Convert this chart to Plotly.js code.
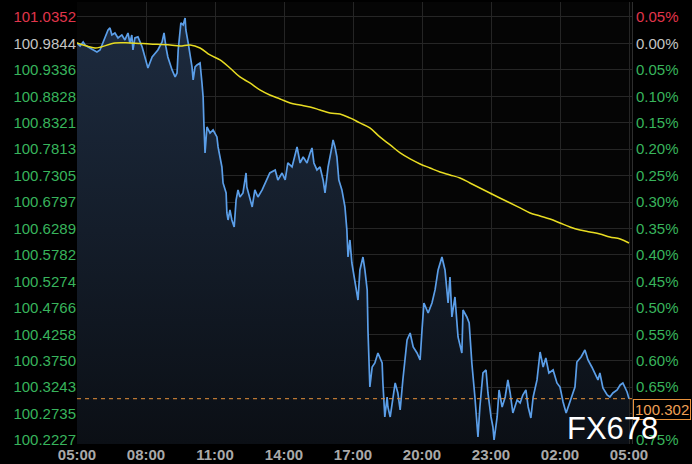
<!DOCTYPE html>
<html>
<head>
<meta charset="utf-8">
<script src="https://cdn.plot.ly/plotly-3.0.1.min.js"></script>
<style>
html,body{margin:0;padding:0;background:#000;}
#chart{width:692px;height:464px;}
</style>
</head>
<body>
<div id="chart"></div>
<script>
// minutes since 05:00
const priceTime = [0,8,16,21,29,34,42,52,60,65,73,81,86,91,99,107,117,125,133,138,143,146,151,159,170,177,183,185,196,204,211,222,227,232,237,248,256,261,264,271,277,282,284,290,295,300,303,308,313,321,326,329,331,334,339,347,355,365,368,378,381,389,391,394,399,404,410,415,420,425,433,441,443,451,457,464,472,483,496,503,517,524,535,543,550,561,574,582,590,600,608,613,618,626,634,642,647,655,665,668,673,678,683,691,699,704,707,712,717,725,733,738,746,751,757,759,764,770,777,785,796,798,803,809,811,817,822,830,837,843,850,861,869,877,887,895,900,905,916,926,934,942,952,960,968,973,978,986,994,1004,1007,1017,1023,1030,1038,1046,1051,1059,1067,1072,1080,1085,1088,1096,1101,1109,1117,1124,1130,1137,1148,1156,1163,1171,1177,1184,1190,1200,1208,1216,1223,1231,1242,1252,1260,1268,1276,1281,1291,1299,1304,1315,1325,1333,1343,1351,1359,1364,1372,1383,1390,1398,1409,1417,1424,1435,1440];
const priceValue = [100.9853,100.9796,100.9873,100.9815,100.9777,100.9757,100.9719,100.9681,100.9719,100.9815,100.9969,101.0103,101.0142,101.0007,101.0045,100.9949,101.0007,100.9911,101.0045,100.9853,101.0007,100.9719,100.9949,100.9969,100.9777,100.9584,100.9392,100.9373,100.9584,100.9661,100.9719,100.9873,101.0045,100.9777,100.9584,100.9335,100.9200,100.9277,100.9719,101.0238,101.0199,101.0334,101.0103,100.9853,100.9623,100.9392,100.9143,100.9392,100.9431,100.9469,100.9085,100.8816,100.8317,100.7740,100.8240,100.8124,100.8182,100.8048,100.7856,100.7471,100.7164,100.6972,100.6588,100.6453,100.6645,100.6453,100.6319,100.6837,100.7030,100.6895,100.6972,100.7356,100.7087,100.6837,100.6703,100.7030,100.6895,100.7030,100.7222,100.7356,100.7414,100.7222,100.7356,100.7222,100.7548,100.7471,100.7856,100.7548,100.7663,100.7548,100.7740,100.7836,100.7548,100.7414,100.7471,100.7222,100.6972,100.7471,100.7856,100.7990,100.7856,100.7663,100.7222,100.7030,100.6703,100.6261,100.5742,100.6069,100.5627,100.5301,100.4916,100.5493,100.5742,100.5493,100.5109,100.4340,100.3245,100.3629,100.3706,100.3898,100.3706,100.3322,100.2669,100.3053,100.2861,100.2669,100.2938,100.3322,100.3130,100.2803,100.3380,100.4148,100.4282,100.4014,100.3898,100.3764,100.4340,100.4859,100.4667,100.4859,100.5109,100.5493,100.5742,100.5493,100.4859,100.5358,100.4590,100.4974,100.4206,100.3898,100.4724,100.4590,100.4475,100.3706,100.3053,100.2285,100.2861,100.3514,100.3572,100.3130,100.2669,100.2477,100.2227,100.2669,100.3188,100.2861,100.3053,100.3380,100.3130,100.2746,100.2995,100.2938,100.3091,100.3188,100.2861,100.2650,100.3053,100.3380,100.3917,100.3629,100.3802,100.3514,100.3572,100.3322,100.3245,100.2957,100.2746,100.2861,100.3053,100.3245,100.3725,100.3821,100.3956,100.3764,100.3629,100.3514,100.3380,100.3514,100.3226,100.3091,100.3053,100.3130,100.3188,100.3284,100.3322,100.3149,100.3020];

const maTime = [0,47,63,99,138,190,243,269,295,321,347,373,399,425,451,477,503,530,556,582,608,634,660,686,712,738,764,790,817,843,869,895,921,947,973,999,1025,1051,1077,1103,1130,1156,1182,1208,1234,1260,1286,1312,1338,1364,1390,1417,1440];
const maValue = [100.9853,100.9757,100.9777,100.9853,100.9853,100.9834,100.9815,100.9796,100.9815,100.9757,100.9623,100.9527,100.9373,100.9200,100.9085,100.8951,100.8854,100.8778,100.8701,100.8662,100.8624,100.8566,100.8509,100.8489,100.8413,100.8317,100.8221,100.8048,100.7894,100.7740,100.7625,100.7529,100.7452,100.7375,100.7318,100.7260,100.7164,100.7068,100.6972,100.6876,100.6780,100.6684,100.6588,100.6530,100.6472,100.6396,100.6319,100.6261,100.6223,100.6184,100.6127,100.6088,100.6011];

const lastPrice = 100.302;
const lastPriceLabel = "100.302";

const xTickVals = [0,180,360,540,720,900,1080,1260,1440];
const xTickLabels = ["05:00","08:00","11:00","14:00","17:00","20:00","23:00","02:00","05:00"];

const yTickVals = [101.0352,100.9844,100.9336,100.8828,100.8321,100.7813,100.7305,100.6797,100.6289,100.5782,100.5274,100.4766,100.4258,100.3750,100.3243,100.2735,100.2227];
const yTickLabels = ["101.0352","100.9844","100.9336","100.8828","100.8321","100.7813","100.7305","100.6797","100.6289","100.5782","100.5274","100.4766","100.4258","100.3750","100.3243","100.2735","100.2227"];
const pctTickLabels = ["0.05%","0.00%","0.05%","0.10%","0.15%","0.20%","0.25%","0.30%","0.35%","0.40%","0.45%","0.50%","0.55%","0.60%","0.65%","0.70%","0.75%"];

const UP = "#e0354b", FLAT = "#c4c4c4", DOWN = "#38b45c";
function colorize(labels){
  return labels.map((t,i)=>{
    const c = i===0 ? UP : (i===1 ? FLAT : DOWN);
    return '<span style="color:'+c+'">'+t+'</span>';
  });
}

const yRange = [100.2150, 101.0640];
const xRange = [0, 1447.8];

const traces = [
  {
    x: priceTime, y: priceValue, type: 'scatter', mode: 'lines',
    line: {color: '#5b9ee8', width: 1.7},
    fill: 'tozeroy',
    fillgradient: {type: 'vertical', start: 100.215, stop: 101.035,
      colorscale: [[0,'#0b0f15'],[1,'#1d2b3f']]},
    hoverinfo: 'skip', showlegend: false
  },
  {
    x: maTime, y: maValue, type: 'scatter', mode: 'lines', yaxis: 'y2',
    line: {color: '#e8dc22', width: 1.5, shape: 'spline'},
    hoverinfo: 'skip', showlegend: false
  }
];

const layout = {
  width: 692, height: 464,
  margin: {l: 77, r: 60, t: 2, b: 20, pad: 0},
  paper_bgcolor: '#000', plot_bgcolor: '#050505',
  font: {family: 'Arial, "Liberation Sans", sans-serif', size: 15, color: DOWN},
  showlegend: false,
  xaxis: {
    range: xRange, tickmode: 'array', tickvals: xTickVals, ticktext: xTickLabels,
    showgrid: true, gridcolor: '#252525', gridwidth: 1, zeroline: false,
    showline: false, ticks: '',
    tickfont: {color: '#a9a9a9', size: 15, weight: 'bold'}, fixedrange: true
  },
  yaxis: {
    range: yRange, tickmode: 'array', tickvals: yTickVals, ticktext: colorize(yTickLabels),
    showgrid: true, gridcolor: '#262626', gridwidth: 1, zeroline: false,
    ticks: '', showline: false, tickfont: {color: DOWN, size: 15}, fixedrange: true
  },
  yaxis2: {
    range: yRange, overlaying: 'y', side: 'right', tickmode: 'array',
    tickvals: yTickVals, ticktext: colorize(pctTickLabels),
    showgrid: false, zeroline: false, ticks: '',
    showline: true, linecolor: '#2e2e2e', linewidth: 1,
    tickfont: {color: DOWN, size: 15}, fixedrange: true
  },
  shapes: [
    {type: 'line', xref: 'paper', x0: 0, x1: 1, yref: 'y', y0: lastPrice, y1: lastPrice,
     line: {color: '#e8923c', width: 1, dash: '4px,4px'}}
  ],
  annotations: [
    {xref: 'paper', yref: 'y', x: 1, y: lastPrice, xanchor: 'left', yanchor: 'top',
     text: lastPriceLabel, showarrow: false, xshift: 1,
     font: {color: '#f0a055', size: 15}, bgcolor: '#000', bordercolor: '#e8923c',
     borderwidth: 1, borderpad: 1},
    {xref: 'paper', yref: 'paper', x: 0.964, y: 0.036, xanchor: 'center', yanchor: 'middle',
     text: 'FX678', showarrow: false,
     font: {color: '#ffffff', size: 31, family: 'Arial, "Liberation Sans", sans-serif'}}
  ]
};

Plotly.newPlot('chart', traces, layout, {displayModeBar: false, staticPlot: true});
</script>
</body>
</html>
